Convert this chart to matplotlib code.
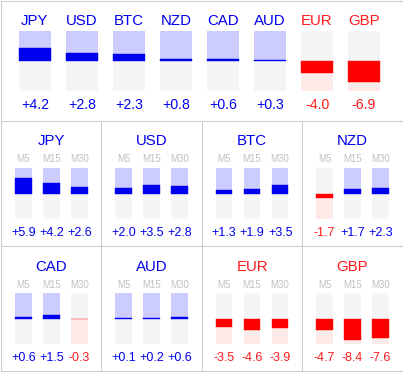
import matplotlib
matplotlib.use("Agg")
import matplotlib.pyplot as plt
from matplotlib import transforms
from matplotlib.patches import Rectangle

# ---- data ----
currencies = ["JPY", "USD", "BTC", "NZD", "CAD", "AUD", "EUR", "GBP"]
total = [4.2, 2.8, 2.3, 0.8, 0.6, 0.3, -4.0, -6.9]
m5 = [5.9, 2.0, 1.3, -1.7, 0.6, 0.1, -3.5, -4.7]
m15 = [4.2, 3.5, 1.9, 1.7, 1.5, 0.2, -4.6, -8.4]
m30 = [2.6, 2.8, 3.5, 2.3, -0.3, 0.6, -3.9, -7.6]
timeframes = ["M5", "M15", "M30"]
scale_max = 10

# ---- style ----
BLUE = "#0000f0"
LBLUE = "#ccccff"
GRAY = "#f5f5f5"
RED = "#ff0000"
LRED = "#ffeaea"
TBLUE = "#0000ee"
TRED = "#ff1a1a"
TGRAY = "#c0c0c0"
BORDER = "#cccccc"
FONT = "Liberation Sans"

W, H = 403, 374
fig = plt.figure(figsize=(W / 100, H / 100), dpi=100)
base = fig.add_axes([0, 0, 1, 1])
base.set_xlim(0, W)
base.set_ylim(H, 0)
base.axis("off")


def add_ax(x0, y0, x1, y1):
    ax = fig.add_axes([x0 / W, 1 - y1 / H, (x1 - x0) / W, (y1 - y0) / H])
    return ax


def draw_bars(ax, values, width):
    n = len(values)
    ax.set_xlim(-0.5, n - 0.5)
    ax.set_ylim(-scale_max, scale_max)
    ax.axis("off")
    for i, v in enumerate(values):
        pos = v >= 0
        col = BLUE if pos else RED
        ax.bar(i, scale_max, bottom=0, width=width, color=LBLUE if pos else GRAY, linewidth=0)
        ax.bar(i, -scale_max, bottom=0, width=width, color=GRAY if pos else LRED, linewidth=0)
        ax.bar(i, v, bottom=0, width=width, color=col, edgecolor=col, linewidth=0.3)


def fmt(v):
    return f"{v:+.1f}"


# ---- borders ----
lw = 0.75
base.add_patch(Rectangle((0.5, 0.5), 402, 370, fill=False, edgecolor=BORDER, linewidth=lw))
for y in (121, 246):
    base.plot([0.5, 402.5], [y, y], color=BORDER, linewidth=lw)
for x in (101, 201.5, 302):
    base.plot([x, x], [121, 370.5], color=BORDER, linewidth=lw)

# ---- top summary ----
top = add_ax(11.5, 31, 387.5, 91)
draw_bars(top, total, 0.70)
tr_top = transforms.blended_transform_factory(top.transData, base.transData)
for i, (c, v) in enumerate(zip(currencies, total)):
    col = TBLUE if v >= 0 else TRED
    base.text(i, 25, c, transform=tr_top, ha="center", va="baseline",
              fontsize=10.8, color=col, family=FONT)
    base.text(i, 109.3, fmt(v), transform=tr_top, ha="center", va="baseline",
              fontsize=10.2, color=col, family=FONT)

# ---- panels ----
row_geo = [
    dict(bar_top=168, bar_bot=219, title=145, tf=162.3, val=235.5),
    dict(bar_top=293, bar_bot=344, title=270.7, tf=287.7, val=360.8),
]
for k, cur in enumerate(currencies):
    r, c = divmod(k, 4)
    g = row_geo[r]
    left = c * 100.4
    ax = add_ax(left + 9.3, g["bar_top"], left + 93.3, g["bar_bot"])
    vals = [m5[k], m15[k], m30[k]]
    draw_bars(ax, vals, 0.59)
    tr = transforms.blended_transform_factory(ax.transData, base.transData)
    title_col = TBLUE if total[k] >= 0 else TRED
    base.text(1, g["title"], cur, transform=tr, ha="center", va="baseline",
              fontsize=10.8, color=title_col, family=FONT)
    for i, (tf, v) in enumerate(zip(timeframes, vals)):
        base.text(i, g["tf"], tf, transform=tr, ha="center", va="baseline",
                  fontsize=7.0, color=TGRAY, family=FONT)
        base.text(i, g["val"], fmt(v), transform=tr, ha="center", va="baseline",
                  fontsize=9.0, color=TBLUE if v >= 0 else TRED, family=FONT)

fig.savefig("out.png", dpi=100)
